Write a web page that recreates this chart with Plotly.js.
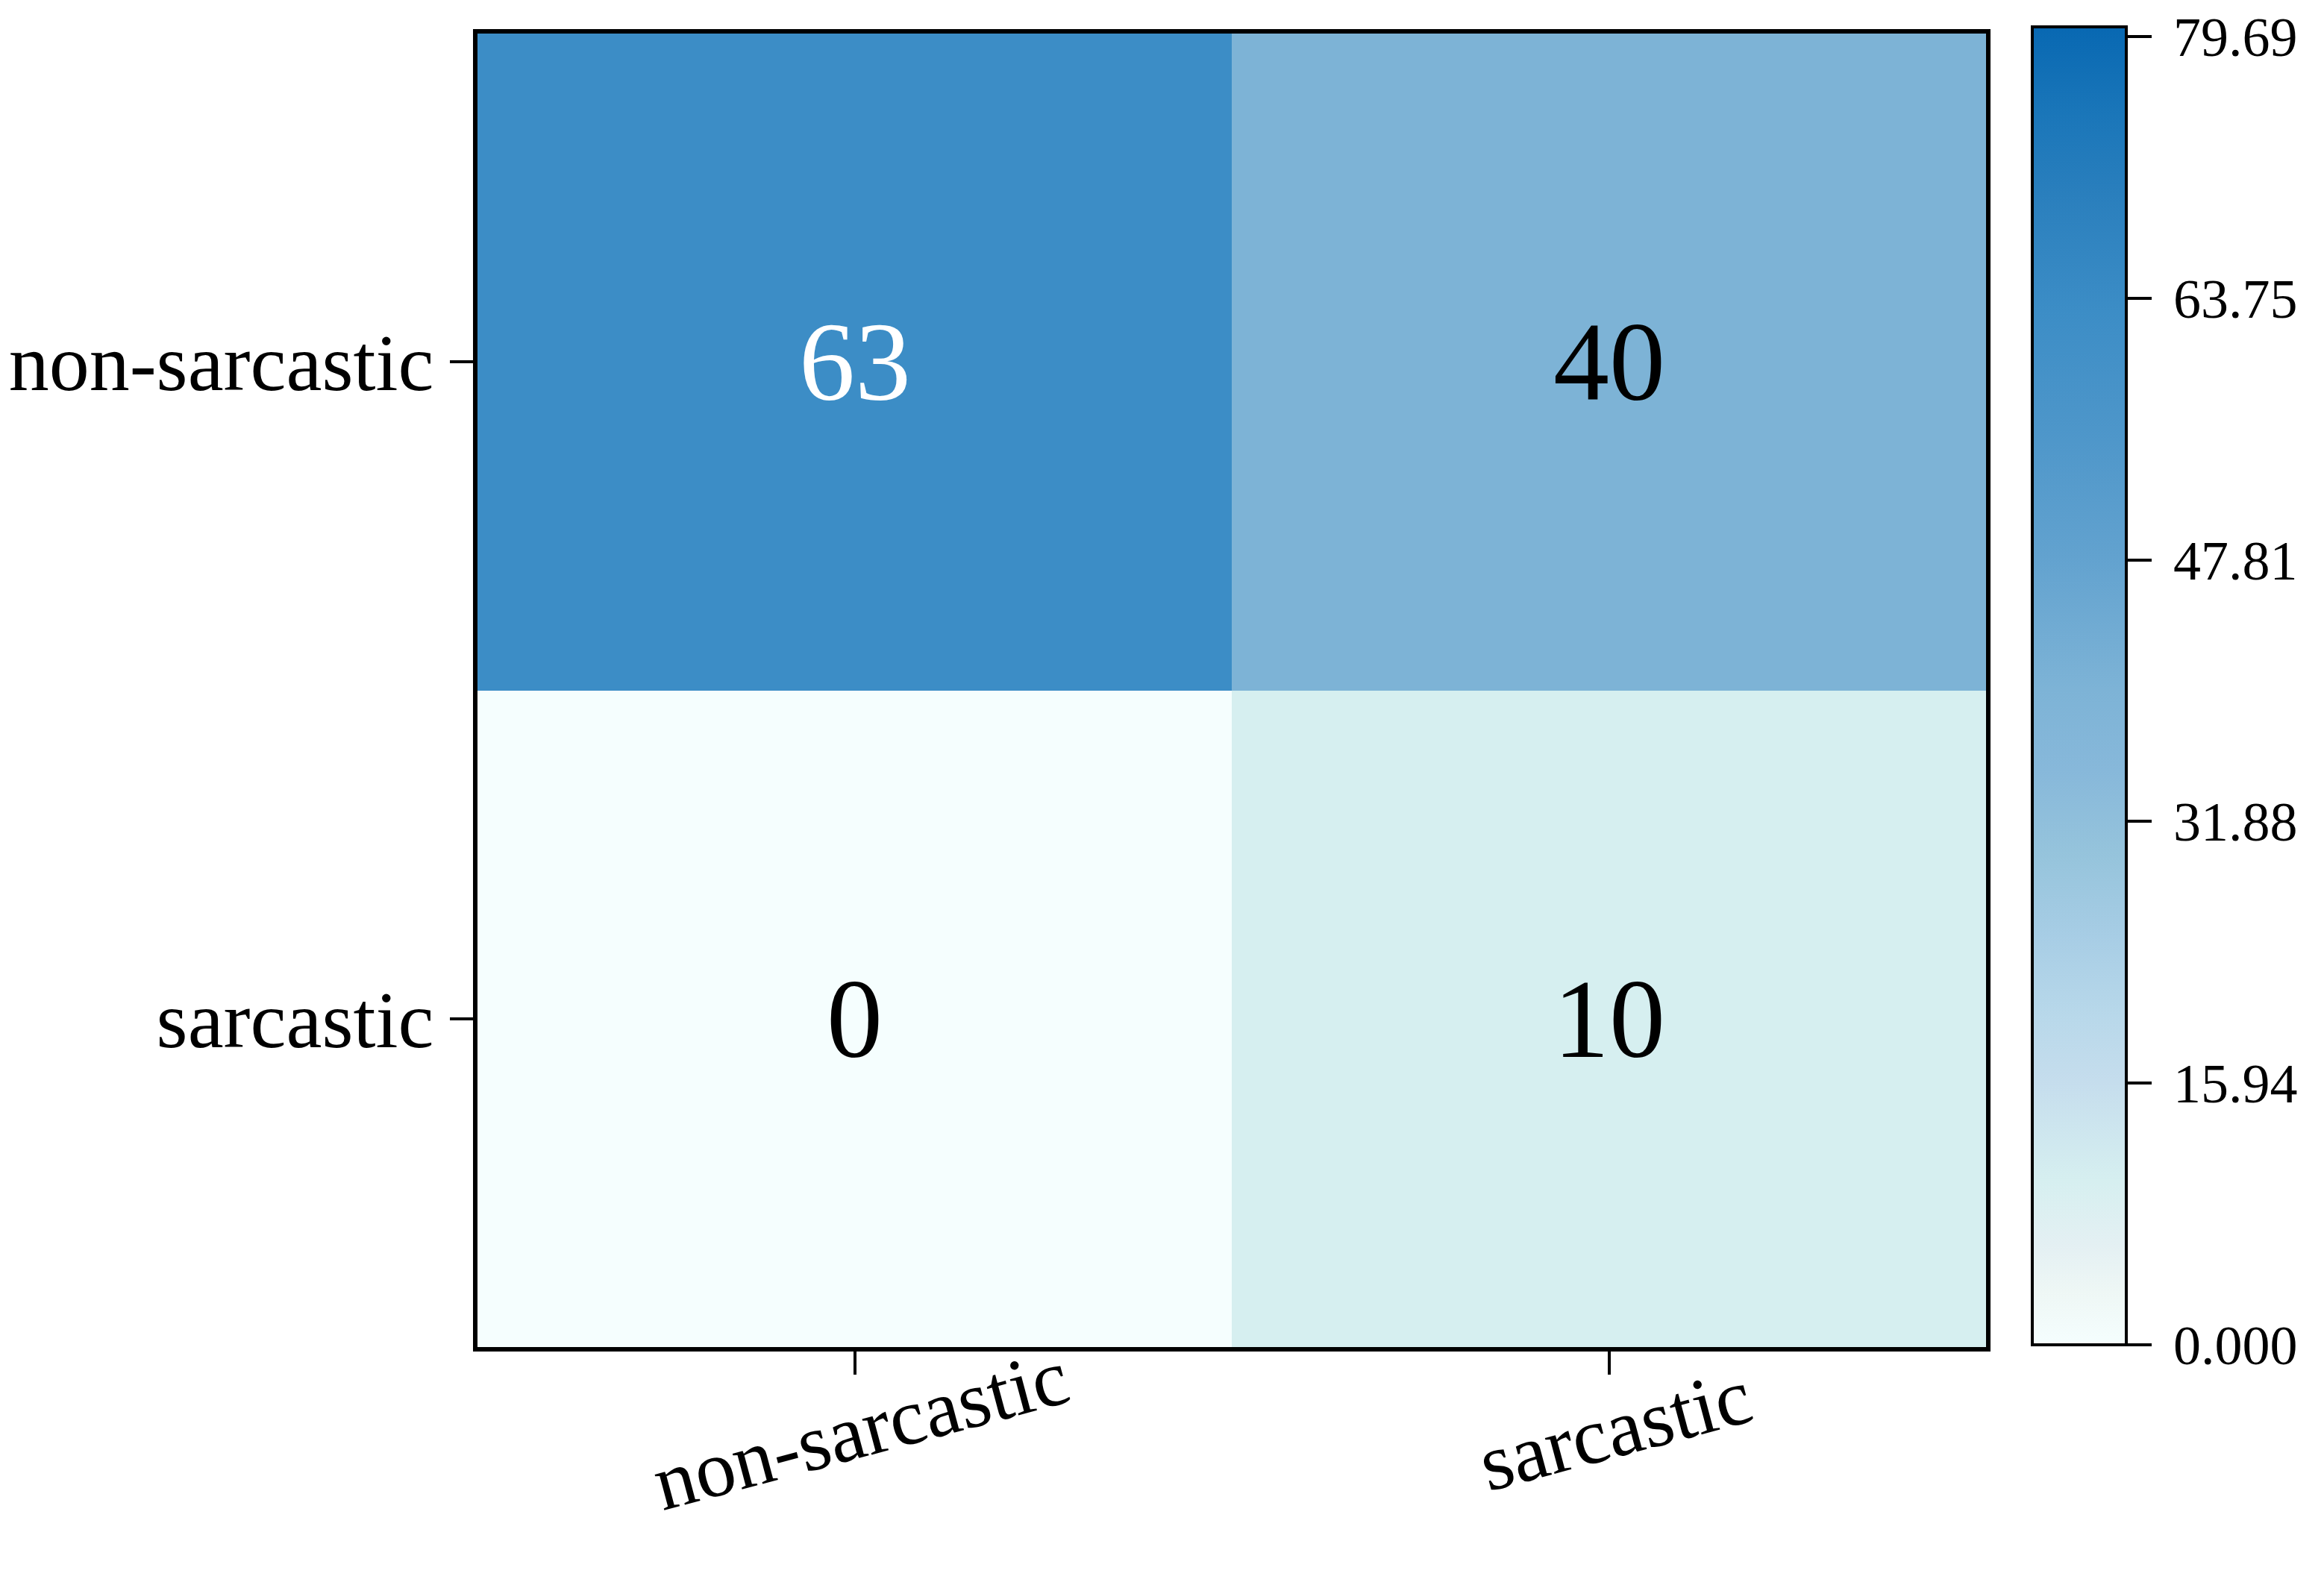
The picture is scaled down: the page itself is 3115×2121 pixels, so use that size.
<!DOCTYPE html>
<html>
<head>
<meta charset="utf-8">
<script src="https://cdn.plot.ly/plotly-3.0.1.min.js"></script>
<style>html,body{margin:0;padding:0;background:#fff;}#chart{width:3115px;height:2121px;}</style>
</head>
<body>
<div id="chart"></div>
<script>
// ---- data ----
const predictedLabels = ['non-sarcastic', 'sarcastic'];
const trueLabels = ['non-sarcastic', 'sarcastic'];
const counts = [
  [63, 40],
  [0, 10]
];
const cbTickVals = [0, 15.94, 31.88, 47.81, 63.75, 79.69];
const cbTickText = ['0.000', '15.94', '31.88', '47.81', '63.75', '79.69'];
const cbMax = 80.3;

// ---- style ----
const FONT = 'Liberation Serif, Times New Roman, serif';
const W = 3115, H = 2121;
const PL = 640, PR = 2662, PT = 45, PB = 1806;
const colorscale = [
  [0.000, '#f5fefe'],
  [0.040, '#eef7f5'],
  [0.075, '#e4f0f3'],
  [0.1245, '#d6eff0'],
  [0.200, '#c5dded'],
  [0.250, '#b8d8ea'],
  [0.310, '#a7cde5'],
  [0.370, '#96c4dc'],
  [0.436, '#87b8da'],
  [0.498, '#7db3d6'],
  [0.598, '#62a2cf'],
  [0.685, '#4f97ca'],
  [0.7846, '#3c8dc6'],
  [0.872, '#2a7fbd'],
  [0.934, '#1a76b9'],
  [1.000, '#0868b2']
];

const trace = {
  type: 'heatmap',
  x: predictedLabels,
  y: trueLabels,
  z: counts,
  zmin: 0,
  zmax: cbMax,
  colorscale: colorscale,
  hoverinfo: 'skip',
  colorbar: {
    x: (2724 - PL) / (PR - PL), xanchor: 'left', xpad: 0,
    y: (PB - 36) / (PB - PT), yanchor: 'top', ypad: 0,
    lenmode: 'pixels', len: 1767,
    thicknessmode: 'pixels', thickness: 126,
    outlinewidth: 4, outlinecolor: '#000',
    ticks: 'outside', ticklen: 32, tickwidth: 4, tickcolor: '#000',
    tickmode: 'array', tickvals: cbTickVals,
    ticktext: cbTickText.map(t => '\u2009' + t),
    tickfont: {family: FONT, size: 74, color: '#000'}
  }
};

const annotations = [];
// cell values
for (let i = 0; i < trueLabels.length; i++) {
  for (let j = 0; j < predictedLabels.length; j++) {
    const v = counts[i][j];
    annotations.push({
      x: predictedLabels[j], y: trueLabels[i], xref: 'x', yref: 'y',
      text: String(v), showarrow: false,
      xanchor: 'center', yanchor: 'middle',
      font: {family: FONT, size: 150, color: v > cbMax * 0.6 ? '#ffffff' : '#000000'}
    });
  }
}
// rotated x tick labels
predictedLabels.forEach(lbl => {
  annotations.push({
    x: lbl, xref: 'x', y: -0.063, yref: 'paper',
    text: lbl, showarrow: false, textangle: -15,
    xanchor: 'center', yanchor: 'middle', xshift: 8,
    font: {family: FONT, size: 108, color: '#000'}
  });
});

const layout = {
  width: W, height: H,
  paper_bgcolor: '#ffffff', plot_bgcolor: '#ffffff',
  margin: {l: PL, r: W - PR, t: PT, b: H - PB, pad: 0},
  showlegend: false,
  xaxis: {
    type: 'category', showgrid: false, zeroline: false,
    showline: true, mirror: true, linewidth: 6, linecolor: '#000',
    ticks: 'outside', ticklen: 31, tickwidth: 4, tickcolor: '#000',
    showticklabels: false
  },
  yaxis: {
    type: 'category', autorange: 'reversed', showgrid: false, zeroline: false,
    showline: true, mirror: true, linewidth: 6, linecolor: '#000',
    ticks: 'outside', ticklen: 31, tickwidth: 4, tickcolor: '#000',
    tickfont: {family: FONT, size: 108, color: '#000'}
  },
  annotations: annotations,
  font: {family: FONT, color: '#000'}
};

Plotly.newPlot('chart', [trace], layout, {staticPlot: true, displayModeBar: false});
</script>
</body>
</html>
